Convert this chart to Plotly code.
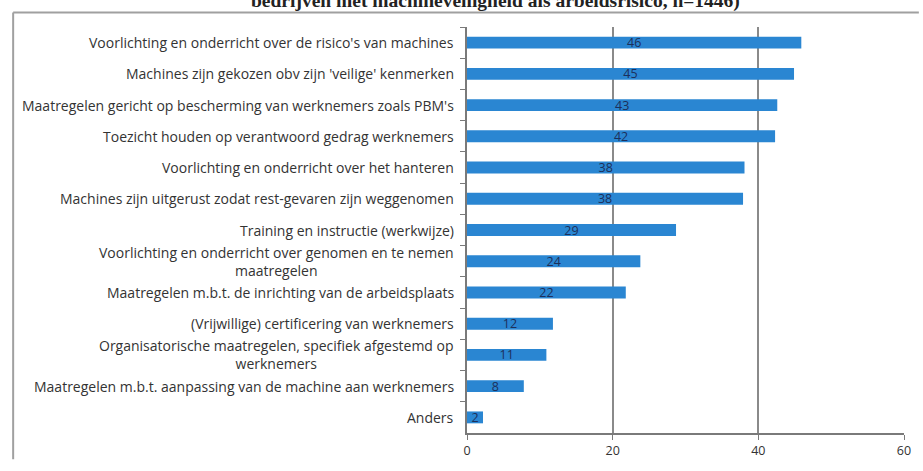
import plotly.graph_objects as go

categories = [
    "Voorlichting en onderricht over de risico's van machines",
    "Machines zijn gekozen obv zijn 'veilige' kenmerken",
    "Maatregelen gericht op bescherming van werknemers zoals PBM's",
    "Toezicht houden op verantwoord gedrag werknemers",
    "Voorlichting en onderricht over het hanteren",
    "Machines zijn uitgerust zodat rest-gevaren zijn weggenomen",
    "Training en instructie (werkwijze)",
    "Voorlichting en onderricht over genomen en te nemen<br>maatregelen",
    "Maatregelen m.b.t. de inrichting van de arbeidsplaats",
    "(Vrijwillige) certificering van werknemers",
    "Organisatorische maatregelen, specifiek afgestemd op<br>werknemers",
    "Maatregelen m.b.t. aanpassing van de machine aan werknemers",
    "Anders",
]
values = [45.9, 44.9, 42.6, 42.3, 38.1, 37.9, 28.7, 23.8, 21.8, 11.8, 10.9, 7.8, 2.2]
labels = ["46", "45", "43", "42", "38", "38", "29", "24", "22", "12", "11", "8", "2"]
x_ticks = [0, 20, 40, 60]
title_text = "bedrijven met machineveiligheid als arbeidsrisico, n=1446)"

fig = go.Figure(go.Bar(
    x=values, y=categories, orientation="h",
    marker=dict(color="#2a86d2", line=dict(width=0)),
    text=labels, textposition="inside", insidetextanchor="middle",
    constraintext="none", textangle=0,
    textfont=dict(family="Open Sans", size=12.5, color="#1d2f5a"),
    width=0.38,
))

annotations = []
for c in categories:
    annotations.append(dict(
        x=0, xref="paper", y=c, yref="y", text=c, showarrow=False,
        xanchor="right", align="center", xshift=-11,
        font=dict(family="Open Sans", size=14, color="#333333"),
    ))
annotations.append(dict(
    x=0.5, xref="paper", y=1.064, yref="paper", yanchor="middle",
    xshift=-190, text="<b>" + title_text + "</b>", showarrow=False,
    font=dict(family="Liberation Serif", size=19.5, color="#222222"),
))

L, R, T, B = 467, 15, 27, 27
pw = 923 - L - R
ph = 471 - T - B

def px_x(p):
    return (p - L) / pw

def px_y(p):
    return (471 - B - p) / ph

frame = dict(color="#a0a0a0", width=2)
fig.update_layout(
    width=923, height=471,
    margin=dict(l=L, r=R, t=T, b=B),
    paper_bgcolor="white", plot_bgcolor="white",
    showlegend=False,
    annotations=annotations,
    shapes=[
        dict(type="line", xref="paper", yref="paper",
             x0=px_x(9), x1=px_x(923), y0=px_y(12), y1=px_y(12),
             line=frame, layer="below"),
        dict(type="line", xref="paper", yref="paper",
             x0=px_x(9), x1=px_x(9), y0=px_y(12), y1=px_y(471),
             line=frame, layer="below"),
    ],
    xaxis=dict(
        range=[0, 60], tickvals=x_ticks, ticktext=[str(v) for v in x_ticks],
        showgrid=True, gridcolor="#8a8a8a", gridwidth=1.5,
        showline=True, linecolor="#7a7a7a", linewidth=1.5,
        ticks="outside", ticklen=5, tickcolor="#7a7a7a",
        tickfont=dict(family="Open Sans", size=12.5, color="#333333"),
        zeroline=False, fixedrange=True,
    ),
    yaxis=dict(
        type="category", autorange="reversed",
        showticklabels=False,
        showline=True, linecolor="#7a7a7a", linewidth=1.5,
        ticks="outside", tickson="boundaries", ticklen=5, tickcolor="#7a7a7a",
        showgrid=False, fixedrange=True,
    ),
)

fig.write_html("out.html")
